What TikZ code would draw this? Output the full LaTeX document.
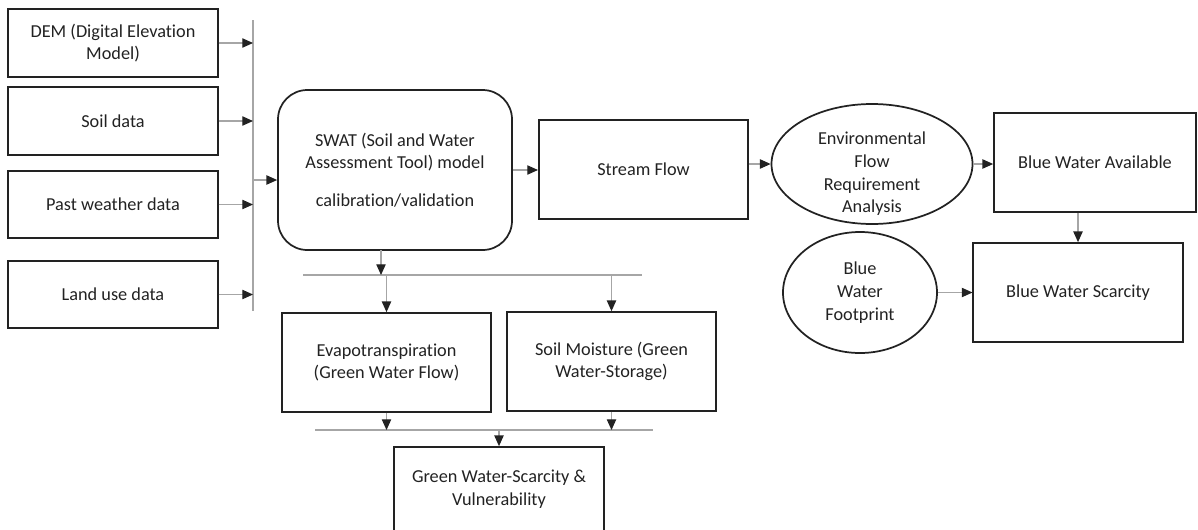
\documentclass[tikz,border=0pt]{standalone}
\usepackage{fontspec}
\setmainfont{Carlito}[Ligatures=NoCommon]
\usetikzlibrary{arrows.meta, shapes.geometric, calc}

\definecolor{edge}{HTML}{222222}
\definecolor{wire}{HTML}{A6A6A6}

\tikzset{
    box/.style={draw=edge, line width=1.3pt, align=center, inner sep=2pt,
        minimum width=157pt, minimum height=74.25pt, text=edge},
    inbox/.style={box, minimum height=50.6pt},
    swatbox/.style={box, rounded corners=22pt, minimum width=175.5pt, minimum height=120pt},
    oval/.style={draw=edge, line width=1.3pt, ellipse, align=center, inner sep=0pt, text=edge},
    link/.style={draw=wire, line width=0.8pt, -{Triangle[edge, length=8pt, width=7pt]}},
    bus/.style={draw=wire, line width=0.8pt},
}

\begin{document}
\begin{tikzpicture}[x=0.75pt, y=-0.75pt, font=\fontsize{13.7pt}{17pt}\selectfont]

    \clip (0,0) rectangle (1198,529);

    \node[inbox] (dem)     at (113,43)    {DEM (Digital Elevation\\Model)};
    \node[inbox] (soil)    at (113,121)   {Soil data};
    \node[inbox] (weather) at (113,204.5) {Past weather data};
    \node[inbox] (land)    at (113,294.5) {Land use data};

    \coordinate (bustop) at (253,20);
    \coordinate (busbot) at (253,311);
    \draw[bus] (bustop) -- (busbot);
    \foreach \x in {dem, soil, weather, land}
        \draw[link] (\x.east) -- (\x.east -| bustop);

    \node[swatbox] (swat) at (395,170) {SWAT (Soil and Water\\Assessment Tool) model\\[11pt]calibration/validation};
    \coordinate (busin) at (253,180);
    \draw[link] (busin) -- (busin -| swat.west);

    \node[box] (stream) at (643.5,169.5) {Stream Flow};
    \draw[link] (swat.east) -- (swat.east -| stream.west);

    \node[oval, minimum width=150.75pt, minimum height=90pt,
        label={[name=efrtext, align=center, text=edge, yshift=-7.5pt]center:Environmental\\Flow\\Requirement\\Analysis}] (efr) at (872,164) {};
    \draw[link] (stream.east |- efr.west) -- (efr.west);

    \node[box, minimum width=151.5pt] (bwa) at (1095,162.5) {Blue Water Available};
    \draw[link] (efr.east) -- (efr.east -| bwa.west);

    \node[box] (bws) at (1078,292.5) {Blue Water Scarcity};
    \draw[link] (bws.north |- bwa.south) -- (bws.north);

    \node[oval, minimum width=115.5pt, minimum height=90.75pt] (bwf) at (860,292.5) {Blue\\Water\\Footprint};
    \draw[link] (bwf.east) -- (bws.west);

    \node[box] (et) at (386.5,362.5) {Evapotranspiration\\(Green Water Flow)};
    \node[box] (sm) at (611.5,361.5) {Soil Moisture (Green\\Water-Storage)};

    \coordinate (splitl) at (303,275);
    \coordinate (splitr) at (642,275);
    \coordinate (swatout) at (381,250);
    \draw[bus] (splitl) -- (splitr);
    \draw[link] (swatout) -- (swatout |- splitl);
    \foreach \x in {et, sm}
        \draw[link] (\x.north |- splitl) -- (\x.north);

    \coordinate (joinl) at (315,430);
    \coordinate (joinr) at (653,430);
    \draw[bus] (joinl) -- (joinr);
    \foreach \x in {et, sm}
        \draw[link] (\x.south) -- (\x.south |- joinl);

    \node[box, minimum height=63pt] (gws) at (499,489) {Green Water-Scarcity \&\\Vulnerability};
    \draw[link] (gws.north |- joinl) -- (gws.north);

\end{tikzpicture}
\end{document}
